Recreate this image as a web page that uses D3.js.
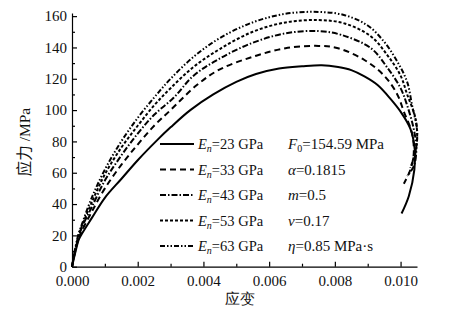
<!DOCTYPE html>
<meta charset="utf-8" />
<title>应力-应变</title>
<style>
  body { margin: 0; background: #fff; }
  svg { display: block; }
  text { font-family: "Liberation Serif", "Times New Roman", serif; fill: #111; }
  .axis path, .axis line { stroke: #000; stroke-width: 1.2px; }
  .curve { fill: none; stroke: #000; stroke-width: 2px; stroke-linejoin: round; }
</style>
<body>
<svg></svg>
<script src="https://d3js.org/d3.v7.min.js"></script>
<script>
  const width = 452, height = 310;
  const svg = d3.select("svg").attr("width", width).attr("height", height);

  // series labels (elastic modulus) and dash styles
  const moduli = [23, 33, 43, 53, 63];
  const dashes = ["none", "6,4", "6,2,1.5,2", "3,2", "5,2,1.5,2,1.5,2"];

  // strain / stress, one pair of arrays per curve
  const strain23 = [0, 0.0001, 0.0002, 0.0003, 0.0006, 0.001, 0.0015, 0.002, 0.0026, 0.003, 0.0036, 0.0043, 0.005, 0.0056, 0.0063, 0.007, 0.0076, 0.0081, 0.0085, 0.0089, 0.0093, 0.0097, 0.01, 0.0103, 0.01043, 0.01042, 0.01025, 0.01003];
  const stress23 = [0, 9, 17, 21, 31, 44, 56, 68, 81, 89, 100, 110, 118, 123, 126.5, 128, 128.7, 127.5, 125.5, 121.5, 116, 107, 99, 88, 75, 62, 45, 34];

  const strain33 = [0, 0.0001, 0.0002, 0.0003, 0.0006, 0.001, 0.0015, 0.002, 0.0025, 0.003, 0.0038, 0.0045, 0.0055, 0.0065, 0.0075, 0.0081, 0.0089, 0.0095, 0.0099, 0.0101, 0.01035, 0.0104, 0.0103, 0.0101];
  const stress33 = [0, 10, 18, 23, 35, 50, 65, 78, 90, 100, 116, 126, 134, 139.5, 141, 139.5, 132, 122, 110, 99, 85, 72, 62, 53];

  const strain43 = [0, 0.0001, 0.0002, 0.0003, 0.0006, 0.001, 0.0015, 0.002, 0.0025, 0.0031, 0.0037, 0.0045, 0.0055, 0.0065, 0.0075, 0.0082, 0.0091, 0.0096, 0.01, 0.0102, 0.0104, 0.01048, 0.0104, 0.0102];
  const stress43 = [0, 11, 19, 25, 38, 55, 71, 85, 97, 108, 122, 133, 143, 149, 150.5, 148, 139.5, 127, 114, 103, 88, 75, 64, 58];

  const strain53 = [0, 0.0001, 0.0002, 0.0003, 0.0006, 0.001, 0.0015, 0.002, 0.0025, 0.003, 0.0037, 0.0045, 0.0055, 0.0065, 0.0075, 0.0083, 0.0091, 0.0096, 0.01, 0.0102, 0.01045, 0.0105, 0.0104, 0.0103];
  const stress53 = [0, 11, 20, 26, 41, 59, 76, 90, 103, 114, 127.6, 139, 150, 156, 157.5, 155.3, 147, 135, 122, 110, 95, 80, 70, 63];

  const strain63 = [0, 0.0001, 0.0002, 0.0003, 0.0006, 0.001, 0.0015, 0.002, 0.0025, 0.003, 0.0037, 0.0045, 0.0055, 0.0065, 0.0075, 0.0083, 0.009, 0.0095, 0.0099, 0.0102, 0.01035, 0.0105, 0.01048, 0.0104];
  const stress63 = [0, 12, 21, 27, 44, 62, 80, 95, 108, 120, 134, 146, 156, 161.5, 162.7, 160.6, 154, 143.6, 131, 118, 103, 88, 76, 68];

  const xTicks = [0, 0.002, 0.004, 0.006, 0.008, 0.010];
  const yTicks = [0, 20, 40, 60, 80, 100, 120, 140, 160];
  const params = ["F0=154.59 MPa", "α=0.1815", "m=0.5", "v=0.17", "η=0.85 MPa·s"];

  const series = [
    [strain23, stress23], [strain33, stress33], [strain43, stress43],
    [strain53, stress53], [strain63, stress63]
  ].map(([sx, sy], i) => ({
    modulus: moduli[i],
    dash: dashes[i],
    points: sx.map((v, j) => [v, sy[j]])
  }));

  const x = d3.scaleLinear().domain([0, 0.0105]).range([72, 417]);
  const y = d3.scaleLinear().domain([0, 162]).range([266.7, 13]);

  // minor ticks first (inward, short)
  svg.append("g")
    .attr("class", "axis")
    .attr("transform", `translate(0,${y(0)})`)
    .call(d3.axisBottom(x).tickValues(d3.range(0.001, 0.0105, 0.002)).tickSize(-3).tickFormat(""))
    .call(g => g.select(".domain").remove());
  svg.append("g")
    .attr("class", "axis")
    .attr("transform", `translate(${x(0)},0)`)
    .call(d3.axisLeft(y).tickValues(d3.range(10, 162, 20)).tickSize(-3).tickFormat(""))
    .call(g => g.select(".domain").remove());

  svg.append("g")
    .attr("class", "axis")
    .attr("transform", `translate(0,${y(0)})`)
    .call(d3.axisBottom(x).tickValues(xTicks).tickSize(-5).tickSizeOuter(0).tickPadding(9).tickFormat(d3.format(".3f")))
    .call(g => g.selectAll("text").attr("font-size", 15).attr("font-family", "Liberation Serif"));

  svg.append("g")
    .attr("class", "axis")
    .attr("transform", `translate(${x(0)},0)`)
    .call(d3.axisLeft(y).tickValues(yTicks).tickSize(-5).tickSizeOuter(0).tickPadding(5))
    .call(g => g.selectAll("text").attr("font-size", 15).attr("font-family", "Liberation Serif"));

  const line = d3.line()
    .x(d => x(d[0]))
    .y(d => y(d[1]))
    .curve(d3.curveCatmullRom.alpha(0.5));

  svg.append("g")
    .selectAll("path")
    .data(series)
    .join("path")
    .attr("class", "curve")
    .attr("stroke-dasharray", d => d.dash)
    .attr("d", d => line(d.points));

  // legend
  const legendY = d3.scalePoint().domain(moduli).range([144, 246]);
  const legend = svg.append("g")
    .selectAll("g")
    .data(series)
    .join("g")
    .attr("transform", d => `translate(0,${legendY(d.modulus)})`);

  legend.append("line")
    .attr("x1", 160).attr("x2", 194)
    .attr("stroke", "#000").attr("stroke-width", 2)
    .attr("stroke-dasharray", d => d.dash);

  const lt = legend.append("text")
    .attr("x", 198).attr("y", 5)
    .attr("font-size", 14.5);
  lt.append("tspan").attr("font-style", "italic").text("E");
  lt.append("tspan").attr("font-style", "italic").attr("font-size", 10).attr("dy", 3).text("n");
  lt.append("tspan").attr("dy", -3).text(d => `=${d.modulus} GPa`);

  // model parameters
  const pt = svg.append("g")
    .selectAll("text")
    .data(params)
    .join("text")
    .attr("x", 288)
    .attr("y", (d, i) => legendY(moduli[i]) + 5)
    .attr("font-size", 15);

  pt.each(function (d, i) {
    const t = d3.select(this);
    if (i === 0) {
      t.append("tspan").attr("font-style", "italic").text("F");
      t.append("tspan").attr("font-size", 10).attr("dy", 3).text("0");
      t.append("tspan").attr("dy", -3).text(d.slice(2));
    } else {
      t.append("tspan").attr("font-style", "italic").text(d[0]);
      t.append("tspan").text(d.slice(1));
    }
  });

  // axis titles
  svg.append("text")
    .attr("x", 240).attr("y", 304)
    .attr("text-anchor", "middle")
    .attr("font-size", 15)
    .attr("font-family", "Noto Sans CJK SC")
    .text("应变");

  const yl = svg.append("text")
    .attr("transform", "translate(30,142) rotate(-90)")
    .attr("text-anchor", "middle")
    .attr("font-size", 15.5);
  yl.append("tspan").attr("font-family", "Noto Sans CJK SC").text("应力");
  yl.append("tspan").text(" /MPa");
</script>
</body>
